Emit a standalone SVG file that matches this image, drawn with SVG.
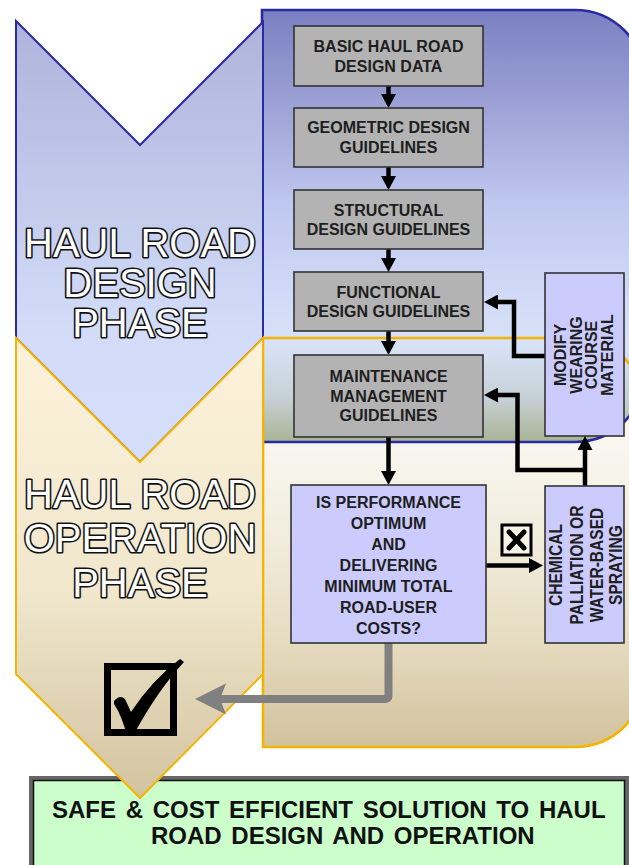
<svg xmlns="http://www.w3.org/2000/svg" width="629" height="865" viewBox="0 0 629 865">
  <defs>
    <linearGradient id="gBluePanel" gradientUnits="userSpaceOnUse" x1="0" y1="10" x2="0" y2="442">
      <stop offset="0" stop-color="#7a80c0"/>
      <stop offset="0.22" stop-color="#9ca2d6"/>
      <stop offset="0.45" stop-color="#bfc8ef"/>
      <stop offset="0.68" stop-color="#d2dcf8"/>
      <stop offset="0.78" stop-color="#d7e2f6"/>
      <stop offset="0.9" stop-color="#c6d0d6"/>
      <stop offset="1" stop-color="#a9b394"/>
    </linearGradient>
    <linearGradient id="gTanPanel" gradientUnits="userSpaceOnUse" x1="0" y1="338" x2="0" y2="747">
      <stop offset="0" stop-color="#fbf4e2"/>
      <stop offset="0.27" stop-color="#f8f6ee"/>
      <stop offset="0.5" stop-color="#f1ecdb"/>
      <stop offset="0.75" stop-color="#e5dbbf"/>
      <stop offset="1" stop-color="#d2c29d"/>
    </linearGradient>
    <linearGradient id="gBlueChev" gradientUnits="userSpaceOnUse" x1="0" y1="21" x2="0" y2="462">
      <stop offset="0" stop-color="#afb3db"/>
      <stop offset="0.7" stop-color="#d2dcf8"/>
      <stop offset="1" stop-color="#d5dffa"/>
    </linearGradient>
    <linearGradient id="gTanChev" gradientUnits="userSpaceOnUse" x1="0" y1="338" x2="0" y2="798">
      <stop offset="0" stop-color="#fdf1da"/>
      <stop offset="0.55" stop-color="#f0e7cd"/>
      <stop offset="1" stop-color="#d3c3a0"/>
    </linearGradient>
    <marker id="ah" viewBox="0 0 14 15" refX="4" refY="7.5" markerWidth="14" markerHeight="15" markerUnits="userSpaceOnUse" orient="auto">
      <path d="M0,0 L14,7.5 L0,15 Z" fill="#000"/>
    </marker>
    <style>
      .flow { fill: none; stroke: #000; stroke-width: 4.5; stroke-linejoin: miter; marker-end: url(#ah); }
      .gray { fill: #b3b3b3; stroke: #333; stroke-width: 1.6; }
      .lav { fill: #cbcbfd; stroke: #333; stroke-width: 1.6; }
      .lbl { font-family: "Liberation Sans", Arial, sans-serif; font-weight: bold; font-size: 16px; fill: #1e1e1e; text-anchor: middle; }
      .phase { font-family: "Liberation Sans", Arial, sans-serif; font-size: 40px; fill: #fff; stroke: #111; stroke-width: 3.2; paint-order: stroke; stroke-linejoin: round; text-anchor: middle; }
      .final { font-family: "Liberation Sans", Arial, sans-serif; font-weight: bold; font-size: 24px; word-spacing: 3px; fill: #111; }
    </style>
  </defs>

  <!-- background panels -->
  <g id="panels">
    <path d="M263,338 H575 A70,70 0 0 1 645,408 V677 A70,70 0 0 1 575,747 H263 Z" fill="url(#gTanPanel)"/>
    <path d="M262,10 H575 A70,70 0 0 1 645,80 V372 A70,70 0 0 1 575,442 H262 Z" fill="url(#gBluePanel)" stroke="#2a2aa2" stroke-width="2.6"/>
    <path d="M263,338 H575 A70,70 0 0 1 645,408 V677 A70,70 0 0 1 575,747 H263 Z" fill="none" stroke="#f4b400" stroke-width="2.6"/>
  </g>

  <!-- final result box -->
  <g id="result">
    <rect x="31" y="778" width="596" height="95" fill="#ccfecc" stroke="#666" stroke-width="4"/>
    <rect x="33.5" y="780.5" width="591" height="90" fill="none" stroke="#111" stroke-width="1.5"/>
    <text class="final" x="52" y="818">SAFE &amp; COST EFFICIENT SOLUTION TO HAUL</text>
    <text class="final" x="151" y="844">ROAD DESIGN AND OPERATION</text>
  </g>

  <!-- phase chevrons -->
  <g id="design-phase">
    <polygon points="16,21 140,145 263,22 263,338 140,462 16,338" fill="url(#gBlueChev)" stroke="#2a2aa2" stroke-width="2"/>
    <text class="phase" x="140" y="257">HAUL ROAD</text>
    <text class="phase" x="140" y="297">DESIGN</text>
    <text class="phase" x="140" y="337">PHASE</text>
  </g>
  <g id="operation-phase">
    <polygon points="16,338 140,462 263,338 263,674 140,798 16,674" fill="url(#gTanChev)" stroke="#f4b400" stroke-width="2"/>
    <text class="phase" x="140" y="508">HAUL ROAD</text>
    <text class="phase" x="140" y="552">OPERATION</text>
    <text class="phase" x="140" y="597">PHASE</text>
  </g>

  <!-- connectors -->
  <g id="connectors">
    <path class="flow" d="M388.5,86 V98"/>
    <path class="flow" d="M388.5,167 V180"/>
    <path class="flow" d="M388.5,249 V262"/>
    <path class="flow" d="M388.5,331 V345"/>
    <path class="flow" d="M388.5,437 V475"/>
    <path class="flow" d="M486,565.5 H533"/>
    <path class="flow" d="M585,486 V446"/>
    <path class="flow" d="M587,470 H517.5 V395 H494"/>
    <path class="flow" d="M545,356 H514 V302 H494"/>
    <path d="M388.5,643 V695 Q388.5,699 384.5,699 H218" fill="none" stroke="#808080" stroke-width="8"/>
    <polygon points="195,699 226,683.5 220,699 226,714.5" fill="#808080"/>
  </g>

  <!-- flowchart nodes -->
  <g id="basic-data">
    <rect class="gray" x="294" y="26" width="189" height="60"/>
    <text class="lbl" x="388.5" y="52">BASIC HAUL ROAD</text>
    <text class="lbl" x="388.5" y="72">DESIGN DATA</text>
  </g>
  <g id="geometric">
    <rect class="gray" x="294" y="108" width="189" height="59"/>
    <text class="lbl" x="388.5" y="133">GEOMETRIC DESIGN</text>
    <text class="lbl" x="388.5" y="153">GUIDELINES</text>
  </g>
  <g id="structural">
    <rect class="gray" x="294" y="190" width="189" height="59"/>
    <text class="lbl" x="388.5" y="216">STRUCTURAL</text>
    <text class="lbl" x="388.5" y="235">DESIGN GUIDELINES</text>
  </g>
  <g id="functional">
    <rect class="gray" x="294" y="272" width="189" height="59"/>
    <text class="lbl" x="388.5" y="298">FUNCTIONAL</text>
    <text class="lbl" x="388.5" y="317">DESIGN GUIDELINES</text>
  </g>
  <g id="maintenance">
    <rect class="gray" x="294" y="355" width="189" height="82"/>
    <text class="lbl" x="388.5" y="382">MAINTENANCE</text>
    <text class="lbl" x="388.5" y="402">MANAGEMENT</text>
    <text class="lbl" x="388.5" y="421">GUIDELINES</text>
  </g>
  <g id="performance">
    <rect class="lav" x="291" y="485" width="195" height="158"/>
    <text class="lbl" x="388.5" y="508">IS PERFORMANCE</text>
    <text class="lbl" x="388.5" y="529">OPTIMUM</text>
    <text class="lbl" x="388.5" y="550">AND</text>
    <text class="lbl" x="388.5" y="571">DELIVERING</text>
    <text class="lbl" x="388.5" y="592">MINIMUM TOTAL</text>
    <text class="lbl" x="388.5" y="613">ROAD-USER</text>
    <text class="lbl" x="388.5" y="634">COSTS?</text>
  </g>
  <g id="spraying">
    <rect class="lav" x="545" y="486" width="79" height="157"/>
    <text class="lbl" transform="translate(561.5,565) rotate(-90) scale(0.82,1)" style="font-size:19px">CHEMICAL</text>
    <text class="lbl" transform="translate(582.5,565) rotate(-90) scale(0.82,1)" style="font-size:19px">PALLIATION OR</text>
    <text class="lbl" transform="translate(602.5,565) rotate(-90) scale(0.82,1)" style="font-size:19px">WATER-BASED</text>
    <text class="lbl" transform="translate(621.5,565) rotate(-90) scale(0.82,1)" style="font-size:19px">SPRAYING</text>
  </g>
  <g id="wearing-course">
    <rect class="lav" x="545" y="273" width="79" height="163"/>
    <text class="lbl" transform="translate(566,355) rotate(-90)">MODIFY</text>
    <text class="lbl" transform="translate(581.5,355) rotate(-90)">WEARING</text>
    <text class="lbl" transform="translate(597,355) rotate(-90)">COURSE</text>
    <text class="lbl" transform="translate(612.5,355) rotate(-90)">MATERIAL</text>
  </g>

  <!-- rejection marker on the "no" branch -->
  <g id="reject-mark">
    <rect x="502" y="525" width="29" height="30" fill="#f7f3e6" stroke="#000" stroke-width="3"/>
    <path d="M509,532 L524,548 M524,532 L509,548" stroke="#000" stroke-width="5" stroke-linecap="round"/>
  </g>

  <!-- acceptance marker -->
  <g id="accept-mark">
    <rect x="107.5" y="666.5" width="66" height="66" fill="none" stroke="#000" stroke-width="7"/>
    <path d="M114,701 Q120,694 125,699 L131,712 Q152,680 180,659 L184,662 Q158,690 134,734 L127,736 Q122,716 114,704 Z" fill="#000"/>
  </g>
</svg>
